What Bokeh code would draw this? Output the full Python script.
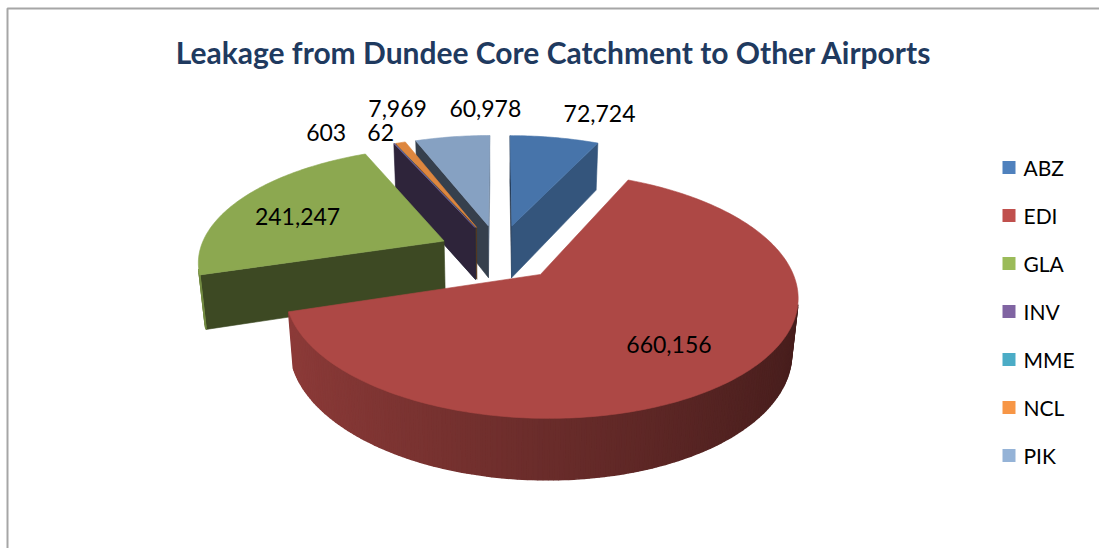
import numpy as np
from bokeh.plotting import figure
from bokeh.models import Range1d, ColumnDataSource
from bokeh.core.properties import value
from bokeh.embed import file_html
from bokeh.resources import INLINE

# ---------------- data ----------------
airports = ["ABZ", "EDI", "GLA", "INV", "MME", "NCL", "PIK"]
passengers = [72724, 660156, 241247, 603, 62, 7969, 60978]
colors = ["#4F81BD", "#C0504D", "#9BBB59", "#8064A2", "#4BACC6", "#F79646", "#95B3D7"]
title_text = "Leakage from Dundee Core Catchment  to Other Airports"

# ---------------- 3D pie projection (layout) ----------------
CX, CY = 498.5, 252.0          # screen position of pie centre (top plane)
F, D = 1348.0, 5.5             # focal scale and camera distance (pie radius = 1)
ALPHA = np.radians(27.4)       # elevation
SA, CA = np.sin(ALPHA), np.cos(ALPHA)
EXPLODE = 0.25
THICK = 0.25
CAM = np.array([0.0, -D * CA, D * SA])


def proj(X, Y, Z):
    X, Y, Z = np.asarray(X, float), np.asarray(Y, float), np.asarray(Z, float)
    up = Y * SA + Z * CA
    dep = D + Y * CA - Z * SA
    return CX + F * X / dep, CY - F * up / dep, dep


def shade(hexc, f):
    rgb = [int(hexc[k:k + 2], 16) for k in (1, 3, 5)]
    return "#%02x%02x%02x" % tuple(int(round(max(0, min(255, c * f)))) for c in rgb)


total = float(sum(passengers))
frac = np.array(passengers) / total
ends = np.cumsum(frac) * 2 * np.pi
starts = ends - frac * 2 * np.pi
mids = (starts + ends) / 2

slices = []
for i in range(len(airports)):
    a0, a1, m = starts[i], ends[i], mids[i]
    ox, oy = EXPLODE * np.sin(m), EXPLODE * np.cos(m)
    base = colors[i]
    faces = []
    n = max(2, int(np.degrees(a1 - a0)) + 2)
    ts = np.linspace(a0, a1, n)
    # curved outer wall strips
    for j in range(n - 1):
        t0, t1 = ts[j], ts[j + 1]
        tm = (t0 + t1) / 2
        P = np.array([ox + np.sin(tm), oy + np.cos(tm), -THICK / 2])
        nrm = np.array([np.sin(tm), np.cos(tm), 0.0])
        if nrm @ (CAM - P) > 0:
            X = [ox + np.sin(t0), ox + np.sin(t1), ox + np.sin(t1), ox + np.sin(t0)]
            Y = [oy + np.cos(t0), oy + np.cos(t1), oy + np.cos(t1), oy + np.cos(t0)]
            Z = [0, 0, -THICK, -THICK]
            sx, sy, dep = proj(X, Y, Z)
            faces.append((dep.mean(), list(sx), list(sy),
                          shade(base, 0.55 + 0.19 * (-np.sin(tm))), 1.6))
    # radial walls
    for ang, nrm2 in ((a0, np.array([-np.cos(a0), np.sin(a0), 0.0])),
                      (a1, np.array([np.cos(a1), -np.sin(a1), 0.0]))):
        X = [ox, ox + np.sin(ang), ox + np.sin(ang), ox]
        Y = [oy, oy + np.cos(ang), oy + np.cos(ang), oy]
        Z = [0, 0, -THICK, -THICK]
        P = np.array([np.mean(X), np.mean(Y), -THICK / 2])
        if nrm2 @ (CAM - P) > 0:
            sx, sy, dep = proj(X, Y, Z)
            f = 0.36 + 0.36 * max(0.0, nrm2[0]) ** 2
            faces.append((dep.mean(), list(sx), list(sy), shade(base, f), 0.6))
    faces.sort(key=lambda t: -t[0])
    # top face
    X = np.concatenate([[ox], ox + np.sin(ts)])
    Y = np.concatenate([[oy], oy + np.cos(ts)])
    sx, sy, dep = proj(X, Y, np.zeros_like(X))
    faces.append((0, list(sx), list(sy), shade(base, 0.9), 0.6))
    slices.append((oy, faces))

slices.sort(key=lambda s: -s[0])
xs, ys, cols, lws = [], [], [], []
for _, faces in slices:
    for _, sx, sy, c, lw in faces:
        xs.append(sx)
        ys.append(sy)
        cols.append(c)
        lws.append(lw)

W, H = 1099, 548
p = figure(width=W, height=H, x_range=Range1d(0, W), y_range=Range1d(H, 0),
           x_axis_type=None, y_axis_type=None, toolbar_location=None,
           output_backend="svg", min_border=0, outline_line_color=None,
           background_fill_color="white", border_fill_color="white")
p.grid.visible = False

# chart-area border (partially outside window)
p.line(x=[7, 7, W + 20], y=[H + 20, 8, 8], line_color="#A6A6A6", line_width=2)

p.patches(xs="xs", ys="ys", fill_color="cols", line_color="cols", line_width="lws",
          source=ColumnDataSource(dict(xs=xs, ys=ys, cols=cols, lws=lws)))

# data labels
label_r = [1.0 if f < 0.15 else 0.7 for f in frac]
label_nudge = [(45, -24), (-3, 1), (-2, 6), (-68, -11), (-14, -11), (-3, -34), (33, -28)]
lx, ly, lt = [], [], []
for i in range(len(airports)):
    ox, oy = EXPLODE * np.sin(mids[i]), EXPLODE * np.cos(mids[i])
    X = ox + label_r[i] * np.sin(mids[i])
    Y = oy + label_r[i] * np.cos(mids[i])
    sx, sy, _ = proj([X], [Y], [0])
    lx.append(float(sx[0]) + label_nudge[i][0])
    ly.append(float(sy[0]) + label_nudge[i][1])
    lt.append(f"{passengers[i]:,}")
p.text(x=lx, y=ly, text=lt, text_font=value("Lato"), text_font_size="23px",
       text_align="center", text_baseline="middle", text_color="#000000")

# title
p.text(x=[557], y=[51], text=[title_text], text_font=value("Lato"),
       text_font_size="30px", text_font_style="bold", text_align="center",
       text_baseline="middle", text_color="#1F3A5F")

# legend
leg_y = [167 + 48 * k for k in range(len(airports))]
p.rect(x=[1008.5] * len(airports), y=leg_y, width=13, height=13,
       fill_color=colors, line_color=None)
p.text(x=[1023] * len(airports), y=leg_y, text=airports, text_font=value("Lato"),
       text_font_size="21px", text_align="left", text_baseline="middle",
       text_color="#000000")

open("out.html", "w").write(file_html(p, INLINE))
